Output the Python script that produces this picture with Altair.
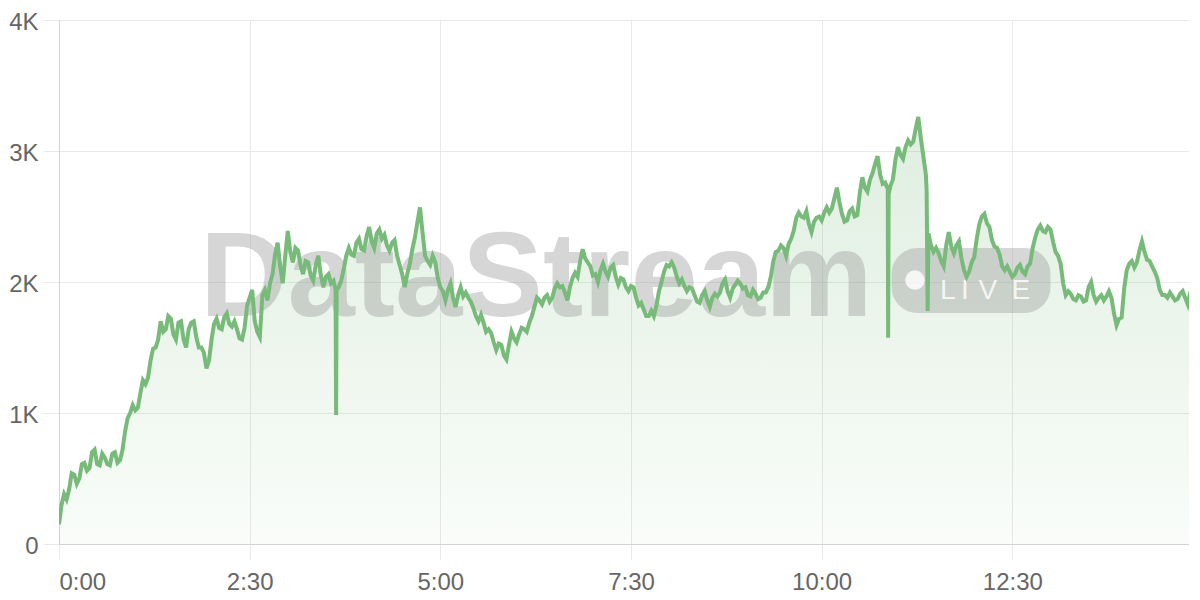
import altair as alt
import pandas as pd

# viewer counts: every 4 s ...
times = list(range(0, 897, 4))
values = [
    150, 380, 420, 530, 500, 620, 580, 720, 600, 660,
    600, 700, 640, 860, 1000, 1020, 1150, 1220, 1400, 1500,
    1700, 1640, 1720, 1560, 1700, 1500, 1690, 1580, 1500, 1340,
    1560, 1720, 1640, 1760, 1660, 1640, 1560, 1820, 1940, 1620,
    1900, 1860, 2060, 2300, 1990, 2390, 2150, 2240, 2060, 2150,
    2010, 2200, 1960, 2060, 2010, 1960, 2100, 2260, 2200, 2330,
    2240, 2420, 2260, 2400, 2360, 2240, 2320, 2130, 1960, 2140,
    2340, 2570, 2200, 2130, 2150, 1960, 1860, 1990, 1810, 1960,
    1920, 1850, 1740, 1750, 1620, 1610, 1480, 1520, 1410, 1620,
    1540, 1650, 1620, 1740, 1880, 1830, 1900, 1880, 1990, 1970,
    1860, 2030, 2040, 2250, 2150, 2050, 2000, 2140, 2040, 2130,
    1980, 2020, 1930, 1960, 1820, 1790, 1740, 1740, 1930, 2080,
    2120, 2110, 1990, 1970, 1960, 1900, 1840, 1930, 1810, 1910,
    1920, 2020, 1880, 1980, 1990, 1960, 1890, 1910, 1880, 1920,
    2040, 2230, 2280, 2200, 2330, 2490, 2500, 2540, 2380, 2490,
    2470, 2570, 2560, 2720, 2520, 2470, 2560, 2510, 2800, 2690,
    2830, 2960, 2750, 2710, 2780, 3030, 2940, 3080, 3070, 3260,
    2960, 2370, 2230, 2220, 2120, 2380, 2220, 2310, 2090, 2080,
    2190, 2440, 2520, 2420, 2270, 2210, 2090, 2080, 2060, 2130,
    2060, 2140, 2340, 2430, 2380, 2400, 2230, 2140, 1900, 1910,
    1860, 1890, 1860, 2000, 1850, 1900, 1890, 1880, 1670, 1730,
    2090, 2160, 2150, 2310, 2170, 2120, 2030, 1900, 1880, 1890,
    1870, 1930, 1830, 1970, 1980,
]
# ... and the readings in between (t = 2, 6, 10, ... s)
mid_times = [t + 2 for t in times[:-1]]
mid_values = [
    300, 340, 540, 460, 610, 560, 700, 610, 690, 610,
    690, 620, 720, 960, 1060, 1040, 1250, 1270, 1490, 1560,
    1620, 1740, 1600, 1690, 1560, 1640, 1700, 1500, 1460, 1400,
    1680, 1650, 1730, 1680, 1700, 1570, 1650, 1880, 1700, 1580,
    1940, 1990, 2210, 2120, 2200, 2230, 2260, 2130, 2160, 2050,
    2130, 2050, 2040, 1990, 985, 2010, 2200, 2210, 2300, 2250,
    2350, 2310, 2370, 2330, 2280, 2300, 2200, 2060, 2060, 2250,
    2460, 2380, 2160, 2200, 2030, 1930, 1940, 1880, 1900, 1890,
    1880, 1800, 1700, 1690, 1640, 1540, 1530, 1440, 1520, 1570,
    1600, 1640, 1690, 1810, 1860, 1880, 1850, 1950, 1960, 1920,
    1960, 2070, 2160, 2180, 2120, 2060, 2090, 2080, 2110, 2040,
    2030, 1960, 1970, 1880, 1840, 1740, 1780, 1820, 2000, 2130,
    2150, 2040, 2020, 1930, 1950, 1850, 1900, 1860, 1880, 1890,
    1990, 1930, 1950, 2010, 1950, 1900, 1940, 1870, 1920, 1960,
    2160, 2240, 2260, 2290, 2390, 2530, 2490, 2440, 2460, 2500,
    2530, 2530, 2640, 2610, 2460, 2540, 2500, 2680, 2720, 2780,
    2900, 2820, 2760, 2730, 2930, 2970, 3030, 3050, 3170, 3100,
    2820, 2280, 2260, 2160, 2280, 2270, 2280, 2180, 2040, 2150,
    2330, 2500, 2450, 2320, 2260, 2120, 2120, 2040, 2110, 2080,
    2120, 2260, 2400, 2390, 2420, 2310, 2200, 1990, 1930, 1870,
    1900, 1850, 1960, 1900, 1880, 1860, 1930, 1760, 1720, 1950,
    2140, 2110, 2240, 2230, 2160, 2080, 1940, 1900, 1920, 1860,
    1910, 1880, 1920, 1940,
]
# edges of the brief drops
spike_times = [217.6, 218.4, 652.3, 652.7, 682.6, 683.4]
spike_values = [1940, 1940, 1575, 2670, 2700, 1779]

x_ticks = [0, 150, 300, 450, 600, 750]
y_ticks = [0, 1000, 2000, 3000, 4000]

df = pd.DataFrame({
    "t": times + mid_times + spike_times,
    "v": values + mid_values + spike_values,
}).sort_values("t")

GRID = "#e9e9e9"
DOMAIN = "#d2d2d2"
FONT = "Liberation Sans"
X_END = 889

x_enc = alt.X(
    "t:Q",
    sort=None,
    scale=alt.Scale(domain=[0, X_END], nice=False, zero=False),
    axis=alt.Axis(
        values=x_ticks,
        labelExpr="floor(datum.value/60) + ':' + (datum.value % 60 < 10 ? '0' : '') + (datum.value % 60)",
        title=None, grid=True, gridColor=GRID, tickColor=GRID, tickSize=15,
        domainColor=DOMAIN, labelFontSize=24, labelColor="#666666",
        labelPadding=11, labelFont=FONT,
    ),
)
y_enc = alt.Y(
    "v:Q",
    scale=alt.Scale(domain=[0, 4000], nice=False),
    axis=alt.Axis(
        values=y_ticks,
        labelExpr="datum.value == 0 ? '0' : (datum.value/1000) + 'K'",
        title=None, grid=True, gridColor=GRID, tickColor=GRID, tickSize=16,
        domainColor=DOMAIN, labelFontSize=24, labelColor="#666666",
        labelPadding=5, labelOffset=2, labelFont=FONT,
    ),
)

base = alt.Chart(df)

area = base.mark_area(
    clip=True,
    color=alt.Gradient(
        gradient="linear",
        stops=[
            alt.GradientStop(color="rgba(118,185,120,0.24)", offset=0),
            alt.GradientStop(color="rgba(118,185,120,0.04)", offset=1),
        ],
        x1=0, x2=0, y1=0, y2=1,
    ),
).encode(x=x_enc, y=y_enc)

line = base.mark_line(clip=True, color="#78ba7a", strokeWidth=4).encode(x=x_enc, y=y_enc)

# watermark
wm_text = pd.DataFrame({"t": [111], "v": [1740], "label": ["DataStream"]})
wm_box = pd.DataFrame({"t": [655], "t2": [780], "v": [2260], "v2": [1763]})
wm_dot = pd.DataFrame({"t": [673.4], "v": [2015]})
wm_live = pd.DataFrame({"t": [699.3, 712.7, 730.8, 756.8], "v": [1870] * 4, "label": ["L", "I", "V", "E"]})

wm1 = alt.Chart(wm_text).mark_text(
    align="left", baseline="alphabetic", fontSize=121, fontWeight="bold",
    font=FONT, color="#9a9a9a", opacity=0.4,
).encode(x=x_enc, y=y_enc, text="label:N")

wm2 = alt.Chart(wm_box).mark_rect(cornerRadius=26, color="#9a9a9a", opacity=0.4).encode(
    x=x_enc, x2="t2:Q", y=y_enc, y2="v2:Q"
)
wm3 = alt.Chart(wm_dot).mark_point(shape="circle", filled=True, size=380, color="white", opacity=0.8).encode(
    x=x_enc, y=y_enc
)
wm4 = alt.Chart(wm_live).mark_text(
    align="center", baseline="alphabetic", fontSize=28, font=FONT, color="white", opacity=0.8,
).encode(x=x_enc, y=y_enc, text="label:N")

chart = alt.layer(area, wm1, wm2, wm3, wm4, line).properties(
    width=1130, height=524,
    padding={"left": 0, "top": 2, "right": 0, "bottom": 0},
    background="white",
).configure_view(stroke=None)

chart.save("out.html", embed_options={"renderer": "svg", "actions": False})
